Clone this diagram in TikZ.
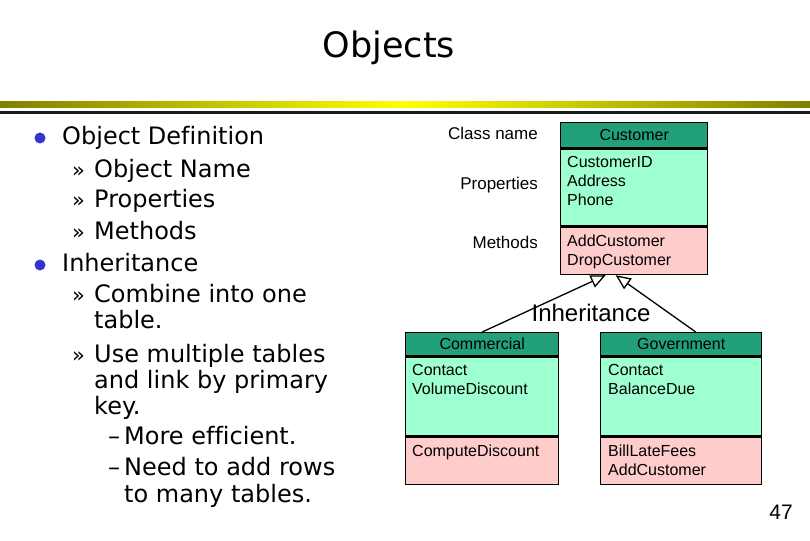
\documentclass[tikz,border=0pt]{standalone}
\usepackage{fontspec}
\setmainfont{DejaVu Sans}[Ligatures=NoCommon]
\newfontfamily\arialfont{Liberation Sans}
\usetikzlibrary{arrows.meta,positioning,calc}

\definecolor{headgreen}{RGB}{34,160,122}
\definecolor{propgreen}{RGB}{158,255,208}
\definecolor{methpink}{RGB}{255,204,204}
\definecolor{barolive}{RGB}{128,128,0}
\definecolor{baryellow}{RGB}{255,255,0}
\definecolor{dotblue}{RGB}{52,52,204}

\begin{document}
\begin{tikzpicture}[x=1pt,y=-1pt]
    % Define node styles
    \tikzstyle{compart}=[draw, line width=1.4pt, inner sep=0pt, anchor=north west]
    \tikzstyle{head}=[compart, fill=headgreen, font=\arialfont\fontsize{16}{19}\selectfont]
    \tikzstyle{props}=[compart, fill=propgreen]
    \tikzstyle{meths}=[compart, fill=methpink]
    \tikzstyle{member}=[anchor=north west, inner sep=0pt, align=left, font=\arialfont\fontsize{16}{19}\selectfont]
    \tikzstyle{side label}=[anchor=base east, inner sep=0pt, font=\arialfont\fontsize{17}{20}\selectfont]
    \tikzstyle{bullet text}=[anchor=base west, inner sep=0pt, font=\fontsize{24}{27}\selectfont]
    \tikzstyle{guill}=[anchor=base west, inner sep=0pt, font=\fontsize{21}{24}\selectfont]
    \tikzstyle{dot}=[circle, fill=dotblue, inner sep=0pt, minimum size=11pt]
    \tikzstyle{inherit}=[line width=1.3pt, -{Triangle[open, fill=white, length=15pt, width=13pt]}]

    \useasboundingbox (0,0) rectangle (810,540);

    % Title and bars
    \node[anchor=base, inner sep=0pt, font=\fontsize{35}{40}\selectfont] (title) at (389,58) {Objects};
    \shade[left color=barolive, right color=barolive, middle color=baryellow] (0,102) rectangle (810,108);
    \fill[black!90] (0,111) rectangle (810,114);

    % Bullet list
    \node[dot] (dot-1) at (40,138) {};
    \node[dot] (dot-2) at (40,265) {};
    \node[bullet text] (item-1) at (62,145) {Object Definition};
    \node[bullet text] (item-2) at (62,271) {Inheritance};
    \foreach \yy in {177,207,239,302,362} {
        \node[guill] (gm-\yy) at (72,\yy) {»};
    }
    \foreach \txt/\yy [count=\k] in {Object Name/177, Properties/207, Methods/239,
        Combine into one/302, table./328, Use multiple tables/362,
        and link by primary/388, key./414} {
        \node[bullet text] (sub-\k) at (94,\yy) {\txt};
    }
    \foreach \yy in {444,475} {
        \node[bullet text] (dash-\yy) at (108,\yy) {–};
    }
    \foreach \txt/\yy [count=\k] in {More efficient./444, Need to add rows/475, to many tables./502} {
        \node[bullet text] (subsub-\k) at (124,\yy) {\txt};
    }

    % Customer class
    \node[head, minimum width=147pt, minimum height=25pt] (cust-head) at (560,122) {Customer};
    \node[props, minimum width=147pt, minimum height=77pt] (cust-prop) at (cust-head.south west) {};
    \node[meths, minimum width=147pt, minimum height=47pt] (cust-meth) at (cust-prop.south west) {};
    \node[member] (cust-prop-txt) at ([shift={(7,8)}]cust-prop.north west) {CustomerID\\Address\\Phone};
    \node[member] (cust-meth-txt) at ([shift={(7,8)}]cust-meth.north west) {AddCustomer\\DropCustomer};

    % Labels
    \node[side label] (lbl-class) at (538,140) {Class name};
    \node[side label] (lbl-prop) at (538,189) {Properties};
    \node[side label] (lbl-meth) at (538,248) {Methods};

    % Commercial class
    \node[head, minimum width=153pt, minimum height=23pt] (com-head) at (405,332) {Commercial};
    \node[props, minimum width=153pt, minimum height=79pt] (com-prop) at (com-head.south west) {};
    \node[meths, minimum width=153pt, minimum height=47pt] (com-meth) at (com-prop.south west) {};
    \node[member] (com-prop-txt) at ([shift={(7,8)}]com-prop.north west) {Contact\\VolumeDiscount};
    \node[member] (com-meth-txt) at ([shift={(7,8)}]com-meth.north west) {ComputeDiscount};

    % Government class
    \node[head, minimum width=161pt, minimum height=23pt] (gov-head) at (600,332) {Government};
    \node[props, minimum width=161pt, minimum height=79pt] (gov-prop) at (gov-head.south west) {};
    \node[meths, minimum width=161pt, minimum height=47pt] (gov-meth) at (gov-prop.south west) {};
    \node[member] (gov-prop-txt) at ([shift={(8,8)}]gov-prop.north west) {Contact\\BalanceDue};
    \node[member] (gov-meth-txt) at ([shift={(8,8)}]gov-meth.north west) {BillLateFees\\AddCustomer};

    % Inheritance arrows
    \coordinate (tip-l) at ([xshift=-28.5pt]cust-meth.south);
    \coordinate (tip-r) at ([xshift=-18.5pt]cust-meth.south);
    \coordinate (gov-top) at ([xshift=14.5pt]gov-head.north);
    \draw[inherit] (com-head.north) -- (tip-l);
    \draw[inherit] (gov-top) -- (tip-r);
    \node[inner sep=0pt, font=\arialfont\fontsize{24}{28}\selectfont] (inh) at (591,313) {Inheritance};

    % Page number
    \node[inner sep=0pt, font=\arialfont\fontsize{21}{24}\selectfont] (pagenum) at (781,512) {47};
\end{tikzpicture}
\end{document}
